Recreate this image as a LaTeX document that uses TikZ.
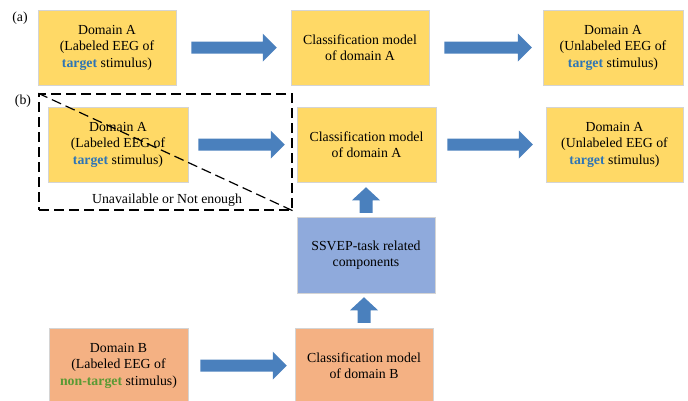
\documentclass[tikz,border=0pt]{standalone}
\usepackage{fontspec}
\setmainfont{Liberation Serif}
\usetikzlibrary{calc}
\definecolor{ayellow}{HTML}{FFD966}
\definecolor{aorange}{HTML}{F4B183}
\definecolor{ablue}{HTML}{8FAADC}
\definecolor{arrowblue}{HTML}{4A80BD}
\definecolor{boxedge}{HTML}{D4D4D4}
\definecolor{tblue}{HTML}{2E75B6}
\definecolor{tgreen}{HTML}{5A9A34}
\newcommand\tgt{\textcolor{tblue}{\textbf{target}}}
\newcommand\ntgt{\textcolor{tgreen}{\textbf{non-target}}}
% horizontal block arrow: from node #1 to node #2, gaps #3 and #4
\newcommand\harrow[4]{%
  \fill[arrowblue] let \p1=(#1.east), \p2=(#2.west) in
  (\x1+#3,\y1-6) -- (\x2-#4-14,\y1-6) -- (\x2-#4-14,\y1-14) -- (\x2-#4,\y1)
  -- (\x2-#4-14,\y1+14) -- (\x2-#4-14,\y1+6) -- (\x1+#3,\y1+6) -- cycle;}
% vertical block arrow pointing up: from node #1 (below) to node #2 (above)
\newcommand\varrow[4]{%
  \fill[arrowblue] let \p1=(#1.north), \p2=(#2.south) in
  (\x1-6.5,\y1+#3) -- (\x1-6.5,\y2-#4-13) -- (\x1-14,\y2-#4-13) -- (\x1,\y2-#4)
  -- (\x1+14,\y2-#4-13) -- (\x1+6.5,\y2-#4-13) -- (\x1+6.5,\y1+#3) -- cycle;}
\begin{document}
\begin{tikzpicture}[x=1pt,y=-1pt,
  txt/.style={font=\fontsize{13.8}{16.5}\selectfont, align=center, inner sep=0pt},
  box/.style={txt, draw=boxedge, line width=0.5pt, minimum width=139, minimum height=75},
  ybox/.style={box, fill=ayellow},
  obox/.style={box, fill=aorange},
  bbox/.style={box, fill=ablue},
  dashbox/.style={draw=black, line width=1.4pt, dash pattern=on 10pt off 5pt, inner sep=0pt},
  diag/.style={draw=black, line width=1.2pt, dash pattern=on 10pt off 5pt}]
\useasboundingbox (0,0) rectangle (688,400);
\fill[white] (0,0) rectangle (688,400);

% row (a)
\node[txt] (la) at (20,18) {(a)};
\node[ybox, minimum width=138] (a1) at (107,47.5) {Domain A\\(Labeled EEG of\\\tgt{} stimulus)};
\node[ybox, minimum width=138] (a2) at (360,47.5) {Classification model\\of domain A};
\node[ybox, minimum width=140] (a3) at (613,47.5) {Domain A\\(Unlabeled EEG of\\\tgt{} stimulus)};
\harrow{a1}{a2}{15}{14}
\harrow{a2}{a3}{15}{11}

% row (b)
\node[txt] (lb) at (23,101) {(b)};
\node[dashbox, minimum width=253, minimum height=116] (dash) at (165.5,152) {};
\node[ybox, minimum width=140] (b1) at (118,144.5) {Domain A\\(Labeled EEG of\\\tgt{} stimulus)};
\draw[diag] (dash.north west) -- (dash.south east);
\node[txt, fill=white, inner sep=1pt] (un) at (167,200) {Unavailable or Not enough};
\node[ybox, minimum width=139] (b2) at (366.5,144.5) {Classification model\\of domain A};
\node[ybox, minimum width=137] (b3) at (614.5,144.5) {Domain A\\(Unlabeled EEG of\\\tgt{} stimulus)};
\harrow{b1}{b2}{10}{12}
\harrow{b2}{b3}{11}{13}

% SSVEP and domain B
\node[bbox, minimum width=138, minimum height=76] (ss) at (366,255) {SSVEP-task related\\components};
\node[obox, minimum width=139] (d1) at (118.5,365.5) {Domain B\\(Labeled EEG of\\\ntgt{} stimulus)};
\node[obox, minimum width=138] (d2) at (364,365.5) {Classification model\\of domain B};
\harrow{d1}{d2}{12}{8}
\varrow{ss}{b2}{4}{5}
\varrow{d2}{ss}{5}{4}
\end{tikzpicture}
\end{document}
